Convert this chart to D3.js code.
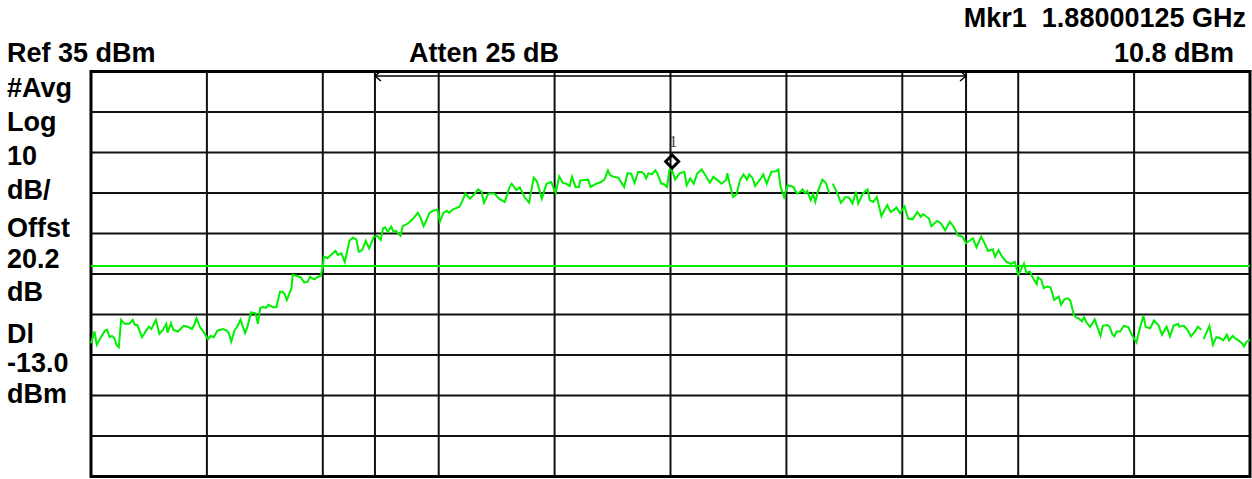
<!DOCTYPE html>
<html>
<head>
<meta charset="utf-8">
<script src="https://cdn.jsdelivr.net/npm/d3@7"></script>
<style>
  body { margin: 0; background: #fff; }
  svg { display: block; }
  .lbl { font-family: "Liberation Sans", Arial, sans-serif; font-weight: bold; font-size: 27px; fill: #000; }
</style>
</head>
<body>
<svg id="chart" width="1252" height="479"></svg>
<script>
// Settings shown on the analyser screen
var refLevel = 35;
var dbPerDiv = 10;
var freqTicks = [-5, -4, -3, -2, -1, 0, 1, 2, 3, 4, 5];          // MHz offset from centre
var levelTicks = [-65, -55, -45, -35, -25, -15, -5, 5, 15, 25, 35]; // dBm
var channelEdges = [-2.55, 2.55];
var displayLine = -13.0;
var markerFreq = 0.00125;
var markerLevel = 10.8;

var headerLeft = ["Ref 35 dBm", "Atten 25 dB"];
var headerRight = ["Mkr1  1.88000125 GHz", "10.8 dBm"];
var sideLabels = ["#Avg", "Log", "10", "dB/", "Offst", "20.2", "dB", "Dl", "-13.0", "dBm"];

// Trace (null = gap in trace)
var traceFreq = [
  -5.00,-4.97,-4.95,-4.91,-4.88,-4.86,-4.84,-4.82,-4.80,-4.78,
  -4.76,-4.74,-4.71,-4.67,-4.64,-4.62,-4.60,-4.56,-4.52,-4.50,
  -4.48,-4.44,-4.41,-4.38,-4.35,-4.34,-4.31,-4.29,-4.25,-4.20,
  -4.16,-4.13,-4.11,-4.09,-4.06,-4.04,-3.99,-3.97,-3.94,-3.91,
  -3.86,-3.83,-3.81,-3.79,-3.76,-3.74,-3.71,-3.69,-3.67,-3.65,
  -3.62,-3.58,-3.56,-3.54,-3.51,-3.49,-3.47,-3.43,-3.40,-3.37,
  -3.35,-3.33,-3.31,-3.27,-3.26,-3.22,-3.19,-3.16,-3.13,-3.11,
  -3.09,-3.07,-3.05,-3.02,-3.00,-2.99,-2.96,-2.93,-2.89,-2.87,
  -2.84,-2.81,-2.77,-2.74,-2.71,-2.69,-2.66,-2.63,
  -2.60,-2.56,-2.53,-2.50,-2.48,-2.46,-2.44,-2.41,-2.39,-2.37,
  -2.33,-2.31,-2.29,-2.26,-2.22,-2.18,-2.16,-2.13,-2.10,-2.08,
  -2.05,-2.01,-1.99,-1.96,-1.93,-1.91,-1.88,-1.84,-1.82,-1.79,
  -1.77,-1.73,-1.70,-1.66,-1.63,-1.61,-1.57,-1.52,-1.48,-1.43,
  -1.39,-1.37,-1.33,-1.30,-1.26,-1.22,-1.18,-1.15,-1.11,-1.07,
  -1.03,-0.99,-0.96,-0.93,-0.90,-0.87,-0.85,-0.82,-0.79,-0.78,
  -0.75,-0.71,-0.69,-0.64,-0.60,-0.57,-0.54,-0.52,-0.49,-0.45,
  -0.40,-0.37,-0.34,-0.31,-0.28,-0.25,-0.23,-0.21,-0.19,-0.16,
  -0.13,-0.11,-0.08,
  -0.06,-0.03,-0.01,0.01,0.04,0.08,0.12,0.14,0.17,0.20,
  0.23,0.27,0.29,0.34,0.37,0.40,0.44,0.48,0.49,0.51,
  0.54,0.57,0.60,0.63,0.66,0.68,0.71,0.73,0.78,0.80,
  0.83,0.87,0.91,0.93,0.95,0.98,1.01,1.06,1.09,1.12,
  1.14,1.16,1.18,1.21,1.23,1.25,1.27,1.31,1.34,1.37,
  1.385,
  1.40,1.44,1.47,1.51,1.54,1.57,1.60,1.62,1.66,1.70,
  1.72,1.75,1.78,1.82,1.87,1.90,1.93,1.95,1.98,2.02,
  2.05,2.09,2.13,2.16,2.18,2.23,2.25,2.30,2.33,2.37,
  2.41,
  2.44,2.48,2.52,2.55,2.58,2.61,2.64,2.68,2.71,2.74,
  2.78,2.80,2.83,2.86,2.90,2.94,2.97,3.00,3.03,3.05,
  3.07,3.10,3.13,3.16,3.17,3.20,3.22,3.25,3.28,3.31,
  3.35,3.37,3.40,3.43,3.45,3.48,3.50,3.52,3.55,3.57,
  3.59,3.62,3.66,3.71,3.73,3.77,3.79,3.81,3.83,3.85,
  3.88,3.91,3.95,3.98,4.02,4.05,4.08,4.10,4.14,4.17,
  4.21,4.24,4.28,4.31,4.34,4.38,4.39,4.43,4.46,4.49,
  4.53,4.55,4.58,
  4.59,
  4.60,4.65,4.68,4.71,4.74,4.77,4.80,4.82,4.85,4.87,
  4.90,4.93,4.95,4.97,5.00
];
var traceLevel = [
  -32.1,-29.2,-32.5,-30.4,-29.0,-28.8,-30.6,-30.3,-30.8,-32.5,
  -33.1,-26.3,-27.3,-27.3,-26.3,-27.6,-27.6,-30.6,-28.8,-28.0,
  -28.6,-26.3,-29.8,-28.8,-27.3,-29.5,-27.1,-28.8,-29.2,-27.8,
  -28.1,-28.6,-27.6,-25.9,-28.1,-28.8,-31.1,-30.3,-30.6,-29.0,
  -28.6,-29.0,-29.6,-31.7,-28.8,-28.1,-26.3,-28.0,-29.6,-28.0,
  -24.5,-24.7,-27.3,-23.4,-23.1,-23.4,-22.6,-23.2,-23.2,-19.4,
  -19.4,-19.9,-21.4,-18.5,-15.2,-15.5,-15.8,-17.1,-16.9,-15.7,
  -16.1,-16.3,-15.8,-15.5,-13.2,-10.7,-11.1,-10.3,-9.3,-10.3,
  -9.9,-12.0,-6.8,-6.0,-6.5,-9.5,-9.1,-6.8,
  -8.7,-5.8,-5.6,-6.6,-3.7,-3.5,-4.6,-3.3,-4.6,-4.3,
  -5.6,-3.2,-2.9,-2.4,-1.3,0.1,-0.9,-3.2,-1.3,0.1,
  0.6,0.9,-2.1,0.1,0.6,0.1,0.9,1.4,1.6,3.4,
  4.9,3.6,4.5,5.9,5.3,2.6,4.9,4.9,3.6,2.8,
  6.4,7.3,5.7,6.4,4.0,2.6,8.8,7.7,3.6,7.3,
  7.7,5.0,9.1,7.5,7.3,6.7,9.0,6.5,6.5,8.0,
  8.2,8.3,6.5,7.3,7.7,8.3,10.6,9.4,9.0,8.8,
  6.5,9.9,9.8,7.5,10.2,10.2,9.8,8.6,9.9,9.6,
  10.6,9.6,7.3,
  7.3,6.5,10.6,11.0,8.3,9.9,10.2,6.9,8.6,7.3,
  9.8,10.8,9.9,7.5,9.0,8.3,7.3,8.3,9.9,7.3,
  4.0,4.7,8.2,9.6,8.3,9.6,8.6,6.7,8.6,9.6,
  7.3,10.2,10.4,10.8,6.5,4.0,6.9,6.5,4.9,5.3,
  5.9,5.0,5.5,3.2,4.7,2.8,5.3,8.3,7.5,4.9,
  null,
  7.3,4.9,2.6,4.0,3.9,2.4,5.3,2.4,4.9,5.9,
  3.2,2.8,4.0,-0.7,2.0,0.3,0.9,1.4,0.0,1.7,
  -1.3,-1.5,0.3,-0.9,-0.2,-1.3,-3.2,-1.9,-2.4,-4.2,
  -2.1,
  -3.2,-5.4,-5.8,-7.4,-6.8,-6.2,-8.4,-5.8,-7.4,-9.3,
  -8.9,-10.7,-9.1,-10.7,-12.0,-12.5,-12.0,-15.2,-13.6,-12.4,
  -14.7,-14.4,-16.1,-17.5,-15.8,-16.5,-18.5,-18.1,-18.3,-21.4,
  -20.6,-22.6,-21.2,-21.0,-21.6,-25.1,-25.7,-25.9,-26.7,-25.7,
  -27.0,-28.1,-26.2,-30.3,-27.8,-27.6,-28.1,-29.8,-30.4,-29.2,
  -29.2,-27.8,-28.1,-30.0,-31.9,-28.4,-25.3,-28.1,-28.4,-26.5,
  -27.6,-30.0,-28.0,-30.4,-27.8,-27.3,-28.0,-27.8,-28.8,-30.4,
  -29.0,-28.0,-28.8,
  null,
  -31.1,-27.8,-32.5,-30.6,-30.8,-31.4,-30.0,-31.4,-30.3,-30.8,
  -31.4,-32.1,-32.9,-31.7,-31.3
];

var svg = d3.select("#chart");

var x = d3.scaleLinear().domain([-5, 5]).range([91, 1250]);
var y = d3.scaleLinear().domain([refLevel - 10 * dbPerDiv, refLevel]).range([476.5, 71.5]);

var green = "#00f000";

// grid
var grid = svg.append("g");
grid.selectAll(".vline")
  .data(freqTicks.slice(1, -1))
  .enter().append("line")
    .attr("x1", function(d){ return x(d); })
    .attr("x2", function(d){ return x(d); })
    .attr("y1", y.range()[1])
    .attr("y2", y.range()[0])
    .attr("stroke", "#111")
    .attr("stroke-width", 2);
grid.selectAll(".hline")
  .data(levelTicks.slice(1, -1))
  .enter().append("line")
    .attr("x1", x.range()[0])
    .attr("x2", x.range()[1])
    .attr("y1", function(d){ return y(d); })
    .attr("y2", function(d){ return y(d); })
    .attr("stroke", "#111")
    .attr("stroke-width", 2);

// channel bandwidth lines + bracket
grid.selectAll(".chan")
  .data(channelEdges)
  .enter().append("line")
    .attr("x1", function(d){ return x(d); })
    .attr("x2", function(d){ return x(d); })
    .attr("y1", y.range()[1])
    .attr("y2", y.range()[0])
    .attr("stroke", "#111")
    .attr("stroke-width", 2);

var bracketY = y.range()[1] + 4.5;
svg.append("line")
  .attr("x1", x(channelEdges[0])).attr("x2", x(channelEdges[1]))
  .attr("y1", bracketY).attr("y2", bracketY)
  .attr("stroke", "#000").attr("stroke-width", 1.5);
svg.append("path")
  .attr("d", "M" + (x(channelEdges[0]) + 6) + "," + (bracketY - 5) + "L" + x(channelEdges[0]) + "," + bracketY + "L" + (x(channelEdges[0]) + 6) + "," + (bracketY + 5))
  .attr("fill", "none").attr("stroke", "#000").attr("stroke-width", 1.5);
svg.append("path")
  .attr("d", "M" + (x(channelEdges[1]) - 6) + "," + (bracketY - 5) + "L" + x(channelEdges[1]) + "," + bracketY + "L" + (x(channelEdges[1]) - 6) + "," + (bracketY + 5))
  .attr("fill", "none").attr("stroke", "#000").attr("stroke-width", 1.5);

// frame
svg.append("rect")
  .attr("x", x.range()[0])
  .attr("y", y.range()[1])
  .attr("width", x.range()[1] - x.range()[0])
  .attr("height", y.range()[0] - y.range()[1])
  .attr("fill", "none")
  .attr("stroke", "#000")
  .attr("stroke-width", 3);

// display line
svg.append("line")
  .attr("x1", x.range()[0]).attr("x2", x.range()[1])
  .attr("y1", y(displayLine)).attr("y2", y(displayLine))
  .attr("stroke", green).attr("stroke-width", 2);

// trace
var traceData = traceFreq.map(function(f, i){ return [f, traceLevel[i]]; });
var line = d3.line()
  .defined(function(d){ return d[1] !== null; })
  .x(function(d){ return x(d[0]); })
  .y(function(d){ return y(d[1]); });
svg.append("path")
  .datum(traceData)
  .attr("d", line)
  .attr("fill", "none")
  .attr("stroke", green)
  .attr("stroke-width", 2)
  .attr("stroke-linejoin", "miter");

// marker diamond sits on top of the trace point
var mx = x(markerFreq) + 1.5, my = y(markerLevel) - 8;
svg.append("path")
  .attr("d", "M" + mx + "," + (my - 6.5) + "L" + (mx + 6.5) + "," + my + "L" + mx + "," + (my + 6.5) + "L" + (mx - 6.5) + "," + my + "Z")
  .attr("fill", "none").attr("stroke", "#000").attr("stroke-width", 3);
svg.append("text")
  .attr("x", mx + 1).attr("y", my - 15)
  .attr("text-anchor", "middle")
  .style("font-family", "'Liberation Serif', serif")
  .style("font-size", "16px")
  .style("fill", "#444")
  .text("1");

// header texts
svg.append("text").attr("class", "lbl").attr("x", 7).attr("y", 62).text(headerLeft[0]);
svg.append("text").attr("class", "lbl").attr("x", 409).attr("y", 62).text(headerLeft[1]);
svg.append("text").attr("class", "lbl").attr("x", 1246).attr("y", 27).attr("text-anchor", "end")
  .style("white-space", "pre").text(headerRight[0]);
svg.append("text").attr("class", "lbl").attr("x", 1234).attr("y", 62).attr("text-anchor", "end").text(headerRight[1]);

// left side labels
var sideY = [97, 131, 165, 199, 237, 268, 301, 343, 372, 403];
svg.selectAll(".side")
  .data(sideLabels)
  .enter().append("text")
    .attr("class", "lbl")
    .attr("x", 7)
    .attr("y", function(d, i){ return sideY[i]; })
    .text(function(d){ return d; });
</script>
</body>
</html>
